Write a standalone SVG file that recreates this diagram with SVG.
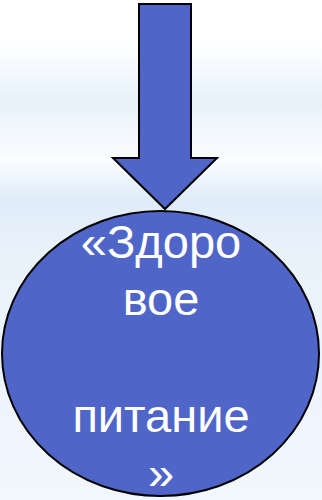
<svg xmlns="http://www.w3.org/2000/svg" width="322" height="500" viewBox="0 0 322 500">
<defs>
<linearGradient id="bg" x1="0" y1="0" x2="0" y2="1">
<stop offset="0" stop-color="#ffffff"/>
<stop offset="0.1" stop-color="#fdfeff"/>
<stop offset="0.2" stop-color="#e6f1fa"/>
<stop offset="0.25" stop-color="#f0f6fc"/>
<stop offset="0.32" stop-color="#fbfdff"/>
<stop offset="0.4" stop-color="#dfecf8"/>
<stop offset="0.5" stop-color="#e9f2fb"/>
<stop offset="1" stop-color="#f1f7fd"/>
</linearGradient>
<style>
.shape{fill:#4f66c8;stroke:#000;stroke-width:2}
.lbl{font-family:"Liberation Sans",Arial,sans-serif;font-size:47px;fill:#fff;text-anchor:middle}
</style>
</defs>
<rect width="322" height="500" fill="url(#bg)"/>
<g id="connectors">
<path class="shape" d="M139,4 H191 V158 H217 L165,209 L113,158 H139 Z"/>
</g>
<g id="node-zdorovoe">
<ellipse class="shape" cx="160.5" cy="353.5" rx="158.5" ry="142.5"/>
<text class="lbl" x="161" y="258">«Здоро</text>
<text class="lbl" x="161" y="315">вое</text>
<text class="lbl" x="161" y="432">питание</text>
<text class="lbl" x="161" y="489">»</text>
</g>
</svg>
